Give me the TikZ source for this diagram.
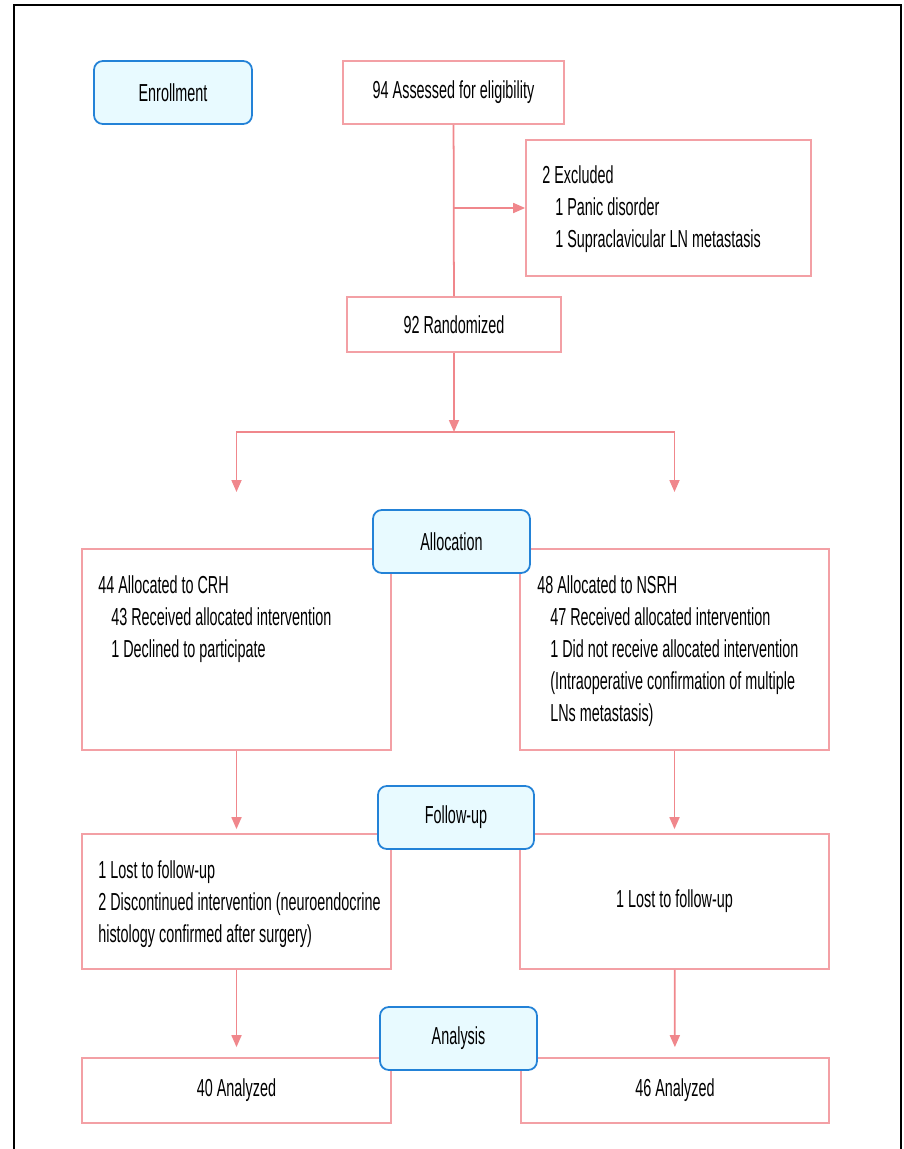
\documentclass[tikz,border=0pt]{standalone}
\usepackage{fontspec}
\setmainfont{Liberation Sans}[FakeStretch=0.585]
\usepackage{tikz}
\usetikzlibrary{calc,positioning}
\usetikzlibrary{arrows.meta}
\definecolor{boxpink}{RGB}{243,160,165}
\definecolor{arrpink}{RGB}{240,135,140}
\definecolor{stageblue}{RGB}{35,130,215}
\definecolor{stagefill}{RGB}{232,250,255}
\tikzset{>={Triangle[width=0.2cm,length=0.24cm]}}
\newcommand{\flowfont}{\fontsize{14}{18.2}\selectfont}
\newcommand{\ind}{\hspace*{0.26cm}}

\begin{document}
\begin{tikzpicture}[x=0.02cm,y=-0.02cm]
        \tikzstyle{pbox} = [draw=boxpink, line width=1pt, fill=white, inner sep=0pt, align=center, font=\flowfont]
        \tikzstyle{bbox} = [draw=stageblue, line width=1pt, fill=stagefill, rounded corners=5pt, align=center, minimum height=1.26cm, font=\flowfont]
        \tikzstyle{ptext} = [anchor=north west, inner sep=0pt, align=left, font=\flowfont]
        \tikzstyle{pline} = [draw=arrpink, line width=1pt]
        \tikzstyle{parrow} = [->, draw=arrpink, line width=1pt]

        \useasboundingbox (0,0) rectangle (903,1149);
        \draw[line width=1.5pt] (14,1149) -- (14,5) -- (901,5) -- (901,1149);

        % pink boxes
        \node[pbox, minimum width=4.42cm, minimum height=1.26cm] (assess) at (453.5,92.5) {94 Assessed for eligibility};
        \node[pbox, minimum width=5.70cm, minimum height=2.72cm] (excl) at (668.5,208) {};
        \node[pbox, minimum width=4.28cm, minimum height=1.10cm] (rand) at (454,324.5) {92 Randomized};
        \node[pbox, minimum width=6.18cm, minimum height=4.02cm] (crh) at (236.5,649.5) {};
        \node[pbox, minimum width=6.18cm, minimum height=4.02cm] (nsrh) at (674.5,649.5) {};
        \node[pbox, minimum width=6.18cm, minimum height=2.70cm] (fuL) at (236.5,901.5) {};
        \node[pbox, minimum width=6.18cm, minimum height=2.70cm] (fuR) at (674.5,901.5) {1 Lost to follow-up};
        \node[pbox, minimum width=6.18cm, minimum height=1.30cm] (anL) at (236.5,1090.5) {40 Analyzed};
        \node[pbox, minimum width=6.16cm, minimum height=1.30cm] (anR) at (675,1090.5) {46 Analyzed};

        \node[ptext] (excltxt) at (542,165) {2 Excluded\\\ind 1 Panic disorder\\\ind 1 Supraclavicular LN metastasis};
        \node[ptext] (crhtxt) at (98,575) {44 Allocated to CRH\\\ind 43 Received allocated intervention\\\ind 1 Declined to participate};
        \node[ptext] (nsrhtxt) at (537,575) {48 Allocated to NSRH\\\ind 47 Received allocated intervention\\\ind 1 Did not receive allocated intervention\\\ind (Intraoperative confirmation of multiple\\\ind LNs metastasis)};
        \node[ptext] (fuLtxt) at (98,860) {1 Lost to follow-up\\2 Discontinued intervention (neuroendocrine\\histology confirmed after surgery)};

        % stage boxes
        \node[bbox, minimum width=3.16cm] (enroll) at (173,92.5) {Enrollment};
        \node[bbox, minimum width=3.14cm] (alloc) at (451.5,541.5) {Allocation};
        \node[bbox, minimum width=3.12cm] (follow) at (456,817.5) {Follow-up};
        \node[bbox, minimum width=3.14cm] (analysis) at (458.5,1038.5) {Analysis};

        \coordinate (split) at (454,432);
        \coordinate (tipL) at (236.5,492);
        \coordinate (tipR) at (674.5,492);

        \draw[pline] (assess) -- (rand);
        \draw[parrow] (assess.south |- excl.west) -- (excl.west);
        \draw[parrow] (rand) -- (split);
        \draw[parrow] (split) -| (tipL);
        \draw[parrow] (split) -| (tipR);
        \draw[parrow, shorten >=0.08cm] (crh) -- (fuL);
        \draw[parrow, shorten >=0.08cm] (nsrh) -- (fuR);
        \draw[parrow, shorten >=0.2cm] (fuL) -- (anL);
        \draw[parrow, shorten >=0.2cm] (fuR) -- (anR);
      \end{tikzpicture}
\end{document}
